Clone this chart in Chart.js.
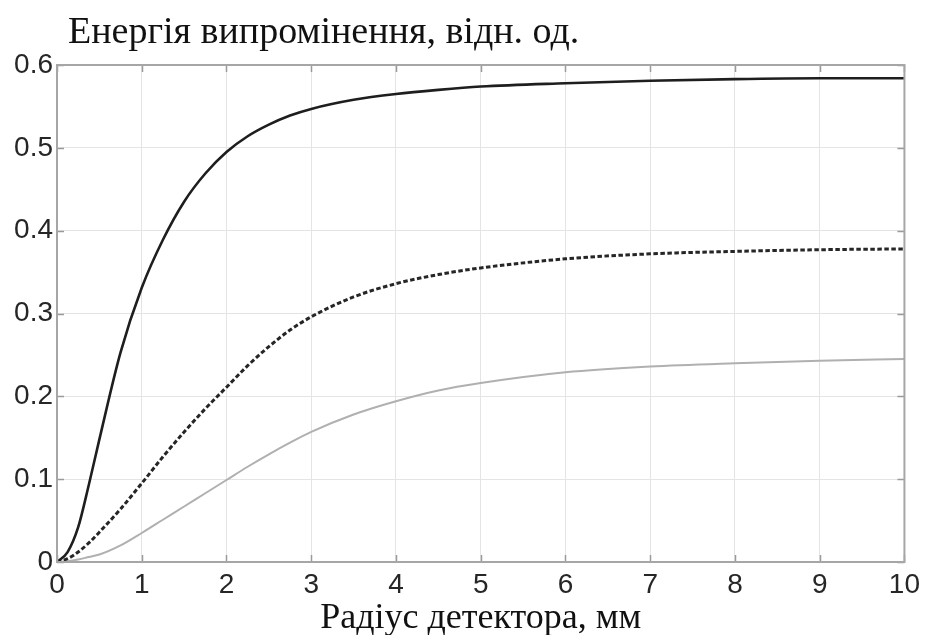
<!DOCTYPE html>
<html>
<head>
<meta charset="utf-8">
<script src="https://cdn.jsdelivr.net/npm/chart.js@4/dist/chart.umd.min.js"></script>
<style>
html,body{margin:0;padding:0;background:#fff;}
#wrap{position:relative;width:926px;height:635px;}
</style>
</head>
<body>
<div id="wrap"><canvas id="c" width="926" height="635"></canvas></div>
<script>
// Detector radius, mm
const radius = [0, 0.125, 0.25, 0.375, 0.5, 0.75, 1, 1.25, 1.5, 1.75, 2, 2.25, 2.5, 2.75, 3, 3.5, 4, 4.5, 5, 6, 7, 8, 9, 10];
// Radiation energy, rel. units
const energySolid  = [0, 0.012, 0.042, 0.093, 0.148, 0.253, 0.331, 0.389, 0.435, 0.469, 0.495, 0.514, 0.528, 0.539, 0.547, 0.558, 0.565, 0.57, 0.574, 0.578, 0.581, 0.583, 0.584, 0.584];
const energyDashed = [0, 0.004, 0.012, 0.023, 0.036, 0.064, 0.095, 0.127, 0.157, 0.185, 0.211, 0.237, 0.26, 0.28, 0.296, 0.32, 0.336, 0.347, 0.355, 0.366, 0.372, 0.375, 0.377, 0.378];
const energyLight  = [0, 0.001, 0.003, 0.006, 0.009, 0.02, 0.035, 0.051, 0.067, 0.083, 0.099, 0.115, 0.13, 0.144, 0.157, 0.178, 0.194, 0.207, 0.216, 0.229, 0.236, 0.24, 0.243, 0.245];
const xTickLabels = ['0','1','2','3','4','5','6','7','8','9','10'];
const yTickLabels = ['0','0.1','0.2','0.3','0.4','0.5','0.6'];
const titleText = 'Енергія випромінення, відн. од.';
const xTitleText = 'Радіус детектора, мм';

const pts = arr => radius.map((x, i) => ({x: x, y: arr[i]}));

const frame = {
  id: 'frame',
  afterLayout(chart) {
    const tb = chart.titleBlock;
    if (tb) { tb.left = 68; }
  },
  afterDraw(chart) {
    const {ctx, chartArea: a, scales} = chart;
    ctx.save();
    ctx.strokeStyle = '#9a9a9a';
    ctx.lineWidth = 1.5;
    ctx.beginPath();
    scales.x.ticks.forEach(t => {
      const px = Math.round(scales.x.getPixelForValue(t.value)) + 0.5;
      ctx.moveTo(px, a.bottom); ctx.lineTo(px, a.bottom - 7);
      ctx.moveTo(px, a.top); ctx.lineTo(px, a.top + 7);
    });
    scales.y.ticks.forEach(t => {
      const py = Math.round(scales.y.getPixelForValue(t.value)) + 0.5;
      ctx.moveTo(a.left, py); ctx.lineTo(a.left + 7, py);
      ctx.moveTo(a.right, py); ctx.lineTo(a.right - 7, py);
    });
    ctx.stroke();
    ctx.strokeStyle = '#a6a6a6';
    ctx.lineWidth = 2;
    ctx.strokeRect(a.left, a.top, a.right - a.left, a.bottom - a.top);
    ctx.restore();
  }
};

new Chart(document.getElementById('c'), {
  type: 'line',
  data: {
    datasets: [
      {data: pts(energySolid), borderColor: '#1e1e1e', borderWidth: 2.6, pointRadius: 0, cubicInterpolationMode: 'monotone', fill: false},
      {data: pts(energyDashed), borderColor: '#262626', borderWidth: 3, borderDash: [4.5, 2.5], pointRadius: 0, cubicInterpolationMode: 'monotone', fill: false},
      {data: pts(energyLight), borderColor: '#b0b0b0', borderWidth: 2, pointRadius: 0, cubicInterpolationMode: 'monotone', fill: false}
    ]
  },
  options: {
    responsive: false,
    animation: false,
    layout: {padding: {left: 0, right: 21, top: 0, bottom: 0}},
    plugins: {
      legend: {display: false},
      tooltip: {enabled: false},
      title: {
        display: true, text: titleText, align: 'start', fullSize: false,
        color: '#111',
        font: {family: '"Liberation Serif", "DejaVu Serif", serif', size: 38, weight: 'normal', lineHeight: 1.2},
        padding: {top: 10.7, bottom: 8.7}
      }
    },
    scales: {
      x: {
        type: 'linear', min: 0, max: 10,
        afterFit: s => { s.height = 73; },
        grid: {color: '#e4e4e4', lineWidth: 1, drawTicks: false},
        border: {display: false},
        ticks: {
          stepSize: 1, padding: 6, color: '#262626',
          font: {family: '"Liberation Sans", Arial, sans-serif', size: 28},
          callback: (v) => xTickLabels[Math.round(v)]
        },
        title: {
          display: true, text: xTitleText, color: '#111',
          font: {family: '"Liberation Serif", "DejaVu Serif", serif', size: 36, lineHeight: 0.9},
          padding: {top: 0, bottom: 0}
        }
      },
      y: {
        type: 'linear', min: 0, max: 0.6,
        afterFit: s => { s.width = 57; },
        grid: {color: '#e4e4e4', lineWidth: 1, drawTicks: false},
        border: {display: false},
        ticks: {
          stepSize: 0.1, padding: 4, color: '#262626',
          font: {family: '"Liberation Sans", Arial, sans-serif', size: 28},
          callback: (v) => yTickLabels[Math.round(v * 10)]
        }
      }
    }
  },
  plugins: [frame]
});
</script>
</body>
</html>
